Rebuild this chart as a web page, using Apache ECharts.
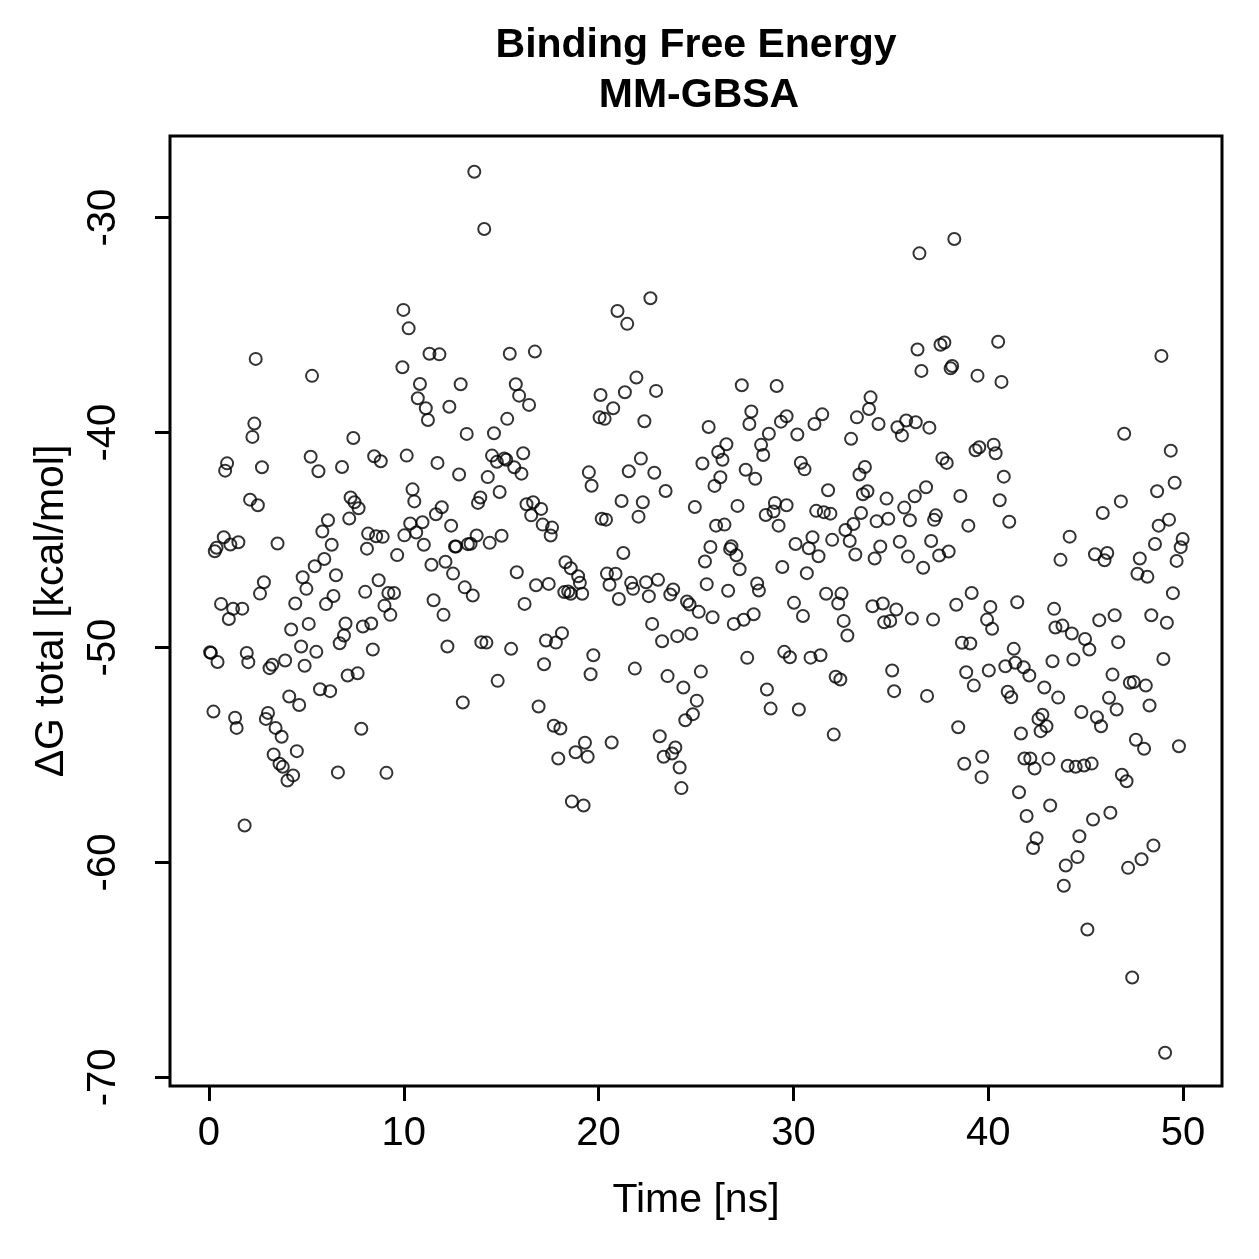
<!DOCTYPE html>
<html>
<head>
<meta charset="utf-8">
<script src="https://cdn.jsdelivr.net/npm/echarts@6/dist/echarts.min.js"></script>
<style>
  html, body { margin: 0; padding: 0; background: #fff; }
  #chart { width: 1259px; height: 1259px; }
</style>
</head>
<body>
<div id="chart"></div>
<script>
// MM-GBSA binding free energy over simulation time
const timeNs = [
  2.40, 5.29, 2.33, 2.23, 7.41, 0.93, 0.83, 2.72, 5.22, 5.62, 6.83, 8.48, 8.82, 2.11, 2.51, 7.27, 7.47, 7.68, 7.20, 6.11,
  5.82, 6.30, 8.17, 8.58, 8.92, 8.11, 9.66, 0.76, 0.39, 1.10, 1.51, 0.30, 3.52, 5.92, 5.43, 6.52, 4.81, 5.00, 2.82, 2.62,
  8.71, 8.02, 9.21, 9.50, 0.62, 1.24, 1.71, 1.02, 4.43, 6.01, 6.39, 9.01, 9.31, 4.22, 5.12, 7.01, 6.93, 6.71, 7.90, 8.33,
  8.41, 4.73, 5.51, 0.06, 0.10, 0.44, 1.94, 2.02, 3.25, 3.11, 3.91, 4.91, 7.12, 7.63, 4.12, 4.63, 5.70, 6.22, 0.23, 1.34,
  1.42, 3.03, 2.92, 3.42, 3.73, 7.82, 3.32, 3.62, 3.79, 4.32, 4.03, 4.51, 6.62, 9.11, 1.83,
  13.62, 14.13, 9.98, 10.25, 9.93, 11.32, 11.83, 15.44, 16.73, 10.83, 10.72, 11.13, 11.24, 12.92, 12.34, 15.75, 15.92, 16.43, 15.31, 13.23,
  14.63, 10.15, 11.73, 12.84, 14.53, 14.78, 15.16, 15.26, 15.67, 16.04, 16.13, 14.31, 14.92, 19.50, 19.64, 10.45, 10.54, 11.65, 11.95, 10.33,
  10.96, 10.64, 10.03, 12.43, 13.93, 13.81, 16.30, 16.64, 16.54, 17.05, 17.13, 17.61, 17.54, 11.03, 12.68, 12.63, 13.29, 13.43, 13.74, 14.41,
  15.02, 11.42, 12.14, 12.53, 15.80, 13.13, 13.54, 11.53, 16.79, 17.44, 18.30, 18.57, 18.95, 19.04, 18.24, 18.44, 18.57, 19.16, 16.20, 12.04,
  12.24, 13.98, 14.24, 15.51, 17.30, 17.81, 18.12, 17.20, 19.73, 19.59, 14.82, 13.03, 16.92, 17.70, 18.04, 19.30, 18.82, 19.44, 17.93, 18.63,
  19.23,
  22.66, 20.97, 21.47, 21.94, 20.10, 21.35, 22.95, 20.75, 20.05, 20.31, 22.35, 27.35, 29.14, 27.84, 27.74, 25.65, 26.56, 26.14, 26.36, 25.33,
  26.25, 25.95, 28.34, 28.45, 28.74, 29.36, 29.65, 27.55, 28.04, 21.55, 22.17, 22.86, 23.44, 21.18, 22.27, 22.05, 20.16, 20.38, 24.94, 27.13,
  29.05, 28.58, 28.98, 29.24, 29.65, 26.03, 26.46, 21.27, 25.74, 25.46, 26.82, 26.75, 27.07, 27.24, 29.43, 20.43, 20.87, 20.56, 21.67, 21.77,
  22.44, 23.05, 23.83, 23.68, 22.58, 21.04, 25.55, 28.14, 28.23, 26.65, 24.54, 24.67, 25.14, 25.85, 22.75, 23.26, 24.04, 24.76, 26.94, 27.45,
  27.96, 29.53, 29.82, 27.63, 21.86, 23.54, 25.25, 24.35, 25.04, 24.84, 24.45, 28.64, 28.83, 20.67, 23.14, 23.94, 23.77, 23.34, 24.16, 24.25,
  38.26, 36.47, 36.37, 37.55, 37.75, 36.57, 38.07, 38.15, 39.45, 33.96, 33.88, 33.26, 34.37, 31.48, 31.08, 30.20, 32.96, 35.34, 35.79, 35.57,
  36.28, 36.98, 30.38, 30.57, 33.67, 33.39, 37.65, 37.87, 39.35, 39.54, 31.78, 33.80, 33.57, 34.78, 36.81, 36.23, 35.69, 35.98, 38.57, 31.17,
  31.56, 31.90, 33.47, 33.08, 32.67, 34.27, 34.87, 37.31, 37.22, 38.98, 30.11, 30.98, 30.79, 31.29, 31.99, 32.89, 33.18, 34.46, 34.17, 35.46,
  35.88, 37.07, 37.48, 37.97, 36.66, 30.69, 31.68, 32.47, 39.15, 30.03, 32.30, 34.06, 34.59, 35.28, 30.49, 32.58, 32.77, 34.66, 34.97, 36.08,
  37.17, 38.36, 30.88, 31.39, 32.17, 32.41, 35.07, 35.17, 36.86, 38.65, 39.08, 38.87, 39.26, 30.28, 32.07, 38.46, 38.77, 39.69, 39.66,
  40.51, 40.68, 48.89, 46.98, 40.28, 40.38, 49.37, 40.80, 40.59, 41.08, 49.57, 46.81, 45.88, 48.67, 49.28, 48.75, 49.98, 49.88, 49.67, 48.56,
  44.18, 43.71, 45.48, 46.11, 45.97, 47.78, 47.66, 48.17, 49.48, 41.49, 40.11, 39.94, 40.20, 43.38, 43.45, 43.81, 44.29, 44.97, 45.19, 45.70,
  46.49, 46.67, 48.37, 49.17, 48.99, 41.31, 40.88, 41.39, 41.82, 42.11, 40.03, 43.30, 44.37, 46.38, 47.27, 47.47, 48.09, 46.20, 46.59, 48.28,
  41.00, 41.18, 42.88, 43.59, 44.78, 45.58, 45.79, 42.78, 42.58, 42.99, 42.69, 41.68, 47.58, 48.00, 49.79, 41.86, 42.16, 42.38, 43.09, 44.08,
  44.49, 44.92, 45.31, 46.86, 47.10, 41.58, 43.18, 41.97, 46.27, 45.38, 44.68, 42.48, 42.30, 48.48, 47.87, 47.18, 44.58, 43.98, 43.88, 45.09,
  47.39, 49.08
];

const deltaG = [
  -36.57, -37.36, -39.58, -40.2, -40.25, -41.43, -41.77, -41.61, -41.12, -41.8, -41.6, -41.1, -41.33, -43.12, -43.38, -43.02, -43.24, -43.52, -44.0, -44.08,
  -44.6, -45.22, -44.7, -44.82, -44.85, -45.4, -45.7, -44.87, -45.36, -45.21, -45.1, -45.52, -45.16, -45.88, -46.22, -46.64, -46.73, -47.27, -46.96, -47.49,
  -46.87, -47.41, -47.46, -47.46, -47.97, -48.2, -48.19, -48.67, -47.95, -47.98, -47.6, -48.05, -48.48, -49.16, -48.9, -48.88, -49.44, -49.8, -49.02, -48.88,
  -50.09, -49.95, -50.2, -50.22, -50.25, -50.67, -50.25, -50.68, -50.8, -50.96, -50.6, -50.85, -51.3, -51.2, -52.28, -52.67, -51.94, -52.03, -52.98, -53.27,
  -53.74, -53.04, -53.32, -53.74, -54.15, -53.78, -54.98, -55.41, -55.55, -55.95, -56.19, -54.82, -55.81, -55.83, -58.28,
  -27.86, -30.53, -34.29, -35.15, -36.96, -36.33, -36.36, -36.33, -36.23, -37.74, -38.4, -38.87, -39.41, -37.75, -38.8, -37.75, -38.28, -38.71, -39.36, -40.06,
  -40.03, -41.07, -41.41, -41.95, -41.07, -41.36, -41.2, -41.26, -41.61, -41.91, -40.96, -42.07, -42.76, -41.85, -42.47, -42.64, -43.2, -43.8, -43.47, -44.23,
  -44.17, -44.65, -44.78, -44.33, -43.02, -43.27, -43.33, -43.24, -43.85, -43.55, -44.28, -44.42, -44.79, -45.22, -45.3, -45.3, -45.19, -45.17, -44.79, -45.13,
  -44.8, -46.15, -46.01, -46.56, -46.5, -47.2, -47.58, -47.8, -47.1, -47.04, -46.03, -46.31, -46.68, -46.99, -47.42, -47.39, -47.5, -47.5, -47.97, -48.48,
  -49.95, -49.75, -49.77, -50.06, -49.67, -49.77, -49.33, -50.78, -50.36, -51.24, -51.55, -52.56, -52.74, -53.64, -53.77, -54.43, -54.87, -55.08, -55.16, -57.16,
  -57.35,
  -33.75, -34.34, -34.94, -37.44, -38.25, -38.12, -38.06, -38.87, -39.29, -39.36, -39.47, -37.8, -37.83, -39.02, -39.6, -39.74, -40.54, -40.9, -41.26, -41.44,
  -42.08, -42.48, -40.57, -41.04, -40.05, -39.49, -39.24, -41.73, -42.15, -41.8, -41.21, -41.87, -42.72, -43.18, -43.24, -43.91, -44.01, -44.05, -43.46, -43.41,
  -43.27, -43.83, -43.67, -44.33, -43.38, -44.33, -44.28, -45.6, -45.32, -46.0, -45.29, -45.41, -45.71, -46.36, -46.25, -46.56, -46.57, -47.08, -46.99, -47.27,
  -46.96, -46.85, -47.3, -47.53, -47.61, -47.74, -47.05, -47.02, -47.35, -47.36, -47.86, -48.0, -48.34, -48.59, -48.9, -49.71, -49.47, -49.36, -48.9, -48.71,
  -48.45, -50.2, -50.45, -50.48, -50.98, -51.33, -51.12, -51.86, -52.47, -53.1, -53.38, -51.95, -52.84, -54.42, -54.13, -54.65, -54.93, -55.08, -55.58, -56.54,
  -30.99, -31.66, -36.13, -35.91, -35.81, -37.13, -37.01, -36.9, -37.35, -38.36, -38.9, -39.29, -39.6, -39.15, -39.6, -40.09, -40.29, -39.75, -39.44, -40.13,
  -39.52, -39.77, -41.4, -41.71, -41.6, -41.95, -41.2, -41.41, -40.82, -40.68, -42.68, -42.73, -42.87, -43.07, -42.54, -42.96, -43.49, -44.08, -42.95, -43.64,
  -43.7, -43.77, -43.74, -44.25, -44.53, -44.13, -44.01, -43.85, -44.06, -44.33, -45.18, -44.87, -45.38, -45.75, -44.99, -45.04, -45.67, -45.3, -45.86, -45.08,
  -45.77, -45.04, -45.72, -45.53, -46.29, -46.54, -47.5, -47.49, -47.46, -47.92, -47.95, -48.08, -47.95, -48.23, -48.53, -48.76, -49.44, -48.82, -48.76, -48.65,
  -48.7, -48.01, -50.47, -50.36, -51.36, -51.49, -51.07, -52.03, -52.25, -49.78, -49.81, -51.15, -51.77, -52.88, -54.05, -53.71, -55.41, -55.08, -56.03,
  -35.77, -37.64, -36.43, -40.05, -40.56, -40.96, -40.84, -42.05, -43.15, -44.15, -42.33, -43.2, -43.74, -42.73, -44.05, -44.33, -44.95, -45.33, -45.97, -45.18,
  -44.84, -45.92, -45.66, -45.6, -45.94, -45.86, -46.57, -46.71, -47.47, -47.89, -48.11, -48.7, -49.13, -48.2, -49.07, -48.98, -49.35, -49.6, -50.09, -48.73,
  -48.5, -49.75, -48.5, -48.85, -50.53, -50.06, -50.87, -50.71, -50.92, -51.3, -51.07, -50.64, -50.56, -51.26, -51.64, -51.6, -51.77, -52.34, -52.88, -52.7,
  -52.06, -52.31, -51.86, -52.33, -53.0, -53.24, -53.66, -53.13, -53.32, -53.66, -53.89, -54.0, -54.29, -54.71, -54.59, -55.16, -55.16, -55.63, -55.18, -55.5,
  -55.55, -55.49, -55.4, -55.92, -56.22, -56.73, -57.35, -57.84, -57.69, -58.0, -58.78, -58.87, -59.33, -59.21, -59.85, -60.25, -59.75, -60.14, -61.08, -63.12,
  -65.35, -68.85
];

const xTicks = [0, 10, 20, 30, 40, 50];
const yTicks = [-70, -60, -50, -40, -30];

const fontFamily = '"Liberation Sans", Arial, Helvetica, sans-serif';

const points = timeNs.map((t, i) => [t, deltaG[i]]);

const chart = echarts.init(document.getElementById('chart'), null, { renderer: 'canvas' });

const option = {
    backgroundColor: '#fff',
    animation: false,
    graphic: [
        {
            type: 'text',
            x: 696, y: 46,
            style: { text: 'Binding Free Energy', x: 0, y: 0, textAlign: 'center', textVerticalAlign: 'middle',
                font: 'bold 41px ' + fontFamily, fill: '#000' }
        },
        {
            type: 'text',
            x: 699, y: 96,
            style: { text: 'MM-GBSA', x: 0, y: 0, textAlign: 'center', textVerticalAlign: 'middle',
                font: 'bold 41px ' + fontFamily, fill: '#000' }
        }
    ],
    grid: {
        left: 170, right: 37, top: 136, bottom: 173,
        show: true, borderColor: '#000', borderWidth: 3,
        containLabel: false
    },
    xAxis: {
        type: 'value',
        min: -2, max: 52,
        splitLine: { show: false },
        axisLine: { show: false, onZero: false },
        axisTick: { show: true, length: 15, lineStyle: { color: '#000', width: 3 }, customValues: xTicks },
        axisLabel: { customValues: xTicks, color: '#000', fontSize: 40, fontFamily: fontFamily, margin: 28 },
        name: 'Time [ns]',
        nameLocation: 'middle',
        nameGap: 94,
        nameTextStyle: { color: '#000', fontSize: 41, fontFamily: fontFamily }
    },
    yAxis: {
        type: 'value',
        min: -70.4, max: -26.2,
        splitLine: { show: false },
        axisLine: { show: false, onZero: false },
        axisTick: { show: true, length: 15, lineStyle: { color: '#000', width: 3 }, customValues: yTicks },
        axisLabel: { customValues: yTicks, rotate: 90, color: '#000', fontSize: 40, fontFamily: fontFamily, margin: 46 },
        name: 'ΔG total [kcal/mol]',
        nameLocation: 'middle',
        nameGap: 98,
        nameTextStyle: { color: '#000', fontSize: 41, fontFamily: fontFamily }
    },
    series: [
        {
            type: 'scatter',
            data: points,
            symbol: 'circle',
            symbolSize: 12,
            itemStyle: { color: 'rgba(0,0,0,0)', borderColor: '#000', borderWidth: 2 },
            emphasis: { disabled: true }
        }
    ]
};

chart.setOption(option);
</script>
</body>
</html>
